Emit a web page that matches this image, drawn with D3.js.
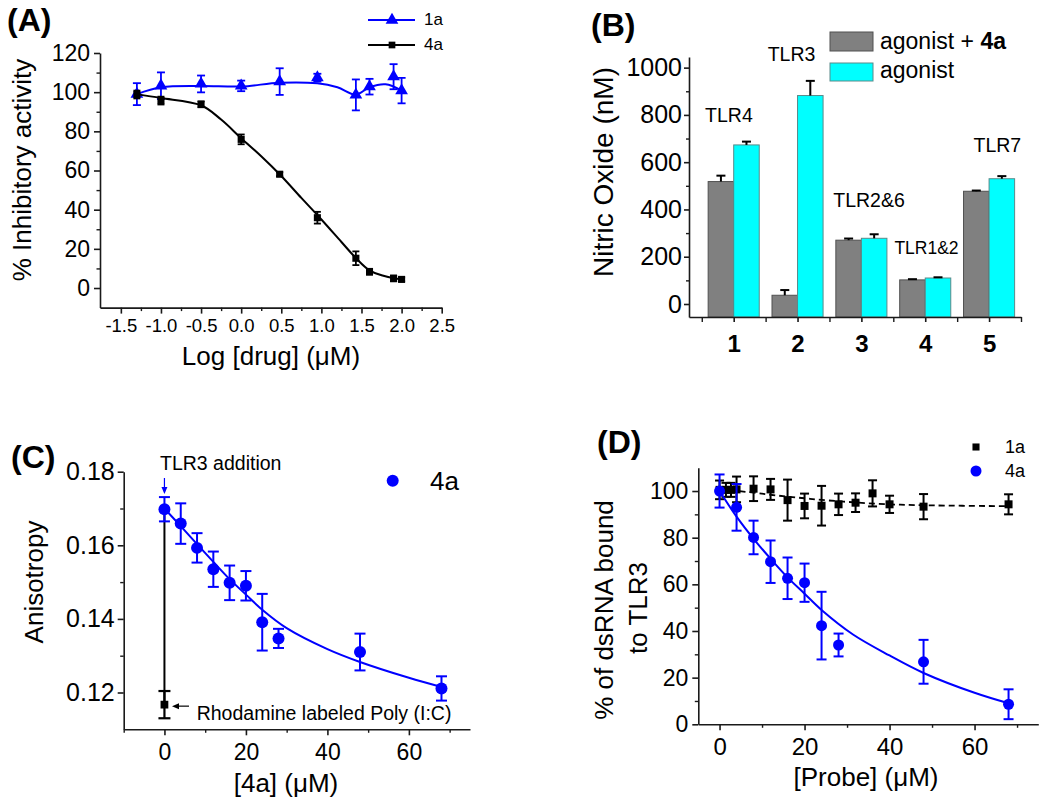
<!DOCTYPE html>
<html><head><meta charset="utf-8">
<script src="https://cdn.jsdelivr.net/npm/d3@7"></script>
<style>
body{margin:0;background:#fff;}
svg{display:block;}
</style></head><body>
<svg id="chart" width="1050" height="807"></svg>
<script>
// ---------------- Panel A data ----------------
const aLogConc = [-1.3, -1.0, -0.5, 0.0, 0.48, 0.95, 1.43, 1.6, 1.9, 2.0];
const a1aMean  = [99, 103.3, 104.2, 103.2, 105.4, 107.4, 98.6, 102.8, 107.9, 100.8];
const a1aErr   = [5.6, 6.8, 4.3, 2.7, 6.8, 2.0, 7.9, 4.0, 6.4, 6.5];
const a4aMean  = [98.8, 95.7, 93.8, 75.9, 58.1, 35.9, 15.2, 8.3, 4.9, 4.4];
const a4aErr   = [2.0, 2.0, 1.5, 2.5, 1.0, 3.0, 3.5, 1.5, 1.5, 1.0];
const a1aCurveX = [-1.3, -1.0, -0.5, 0.0, 0.48, 0.95, 1.2, 1.43, 1.6, 1.8, 2.0];
const a1aCurveY = [99, 102.5, 103.2, 102.9, 104.8, 104.5, 102.5, 98.8, 102.5, 104, 100.8];
const a4aCurveX = [-1.3, -1.0, -0.5, -0.25, 0.0, 0.25, 0.5, 0.75, 1.0, 1.25, 1.43, 1.6, 1.75, 1.9, 2.0];
const a4aCurveY = [99, 97, 93.3, 86, 76.5, 67.3, 57.2, 46, 35, 23.5, 15.3, 9, 6.5, 5, 4.5];
const aXTicks = [-1.5, -1.0, -0.5, 0.0, 0.5, 1.0, 1.5, 2.0, 2.5];
const aXMinor = [-1.25, -0.75, -0.25, 0.25, 0.75, 1.25, 1.75, 2.25];
const aYTicks = [0, 20, 40, 60, 80, 100, 120];
const aYMinor = [10, 30, 50, 70, 90, 110];
const aSeries = ["1a", "4a"];

// ---------------- Panel B data ----------------
const bCats = [1, 2, 3, 4, 5];
const bTlr = ["TLR4", "TLR3", "TLR2&6", "TLR1&2", "TLR7"];
const bWith4a = [518, 37, 270, 102, 477];
const bWith4aErr = [25, 22, 7, 3, 3];
const bAgonist = [673, 882, 278, 110, 530];
const bAgonistErr = [14, 62, 17, 3, 11];
const bYTicks = [0, 200, 400, 600, 800, 1000];
const bYMinor = [100, 300, 500, 700, 900];
const bXMinor = [0.5, 1.5, 2.5, 3.5, 4.5, 5.5];

// ---------------- Panel C data ----------------
const cConc = [0, 4, 8, 12, 16, 20, 24, 28, 48, 68];
const cAniso = [0.1698, 0.1659, 0.1593, 0.1535, 0.1498, 0.1490, 0.1391, 0.1347, 0.1310, 0.1211];
const cErr = [0.0033, 0.0055, 0.0040, 0.0048, 0.0047, 0.0040, 0.0077, 0.0026, 0.0050, 0.0033];
const cProbeConc = 0, cProbe = 0.1167, cProbeErr = 0.0037;
const cCurveX = [0, 4, 8, 12, 16, 20, 24, 30, 40, 48, 60, 68];
const cCurveY = [0.1700, 0.1652, 0.1603, 0.1555, 0.1508, 0.1466, 0.1425, 0.1375, 0.1318, 0.1283, 0.1240, 0.1215];
const cYTicks = [0.12, 0.14, 0.16, 0.18];
const cYMinor = [0.13, 0.15, 0.17];
const cXTicks = [0, 20, 40, 60];
const cXMinor = [-10, 10, 30, 50, 70];

// ---------------- Panel D data ----------------
const d1aConc = [0, 1.5, 2.7, 4, 8, 12, 16, 20, 24, 28, 32, 36, 40, 48, 68];
const d1aVal  = [100.5, 100.5, 100.5, 100.7, 101, 100.7, 96.1, 93.6, 93.7, 94.3, 95, 99, 94.3, 93.3, 94.3];
const d1aErr  = [4, 3, 3, 5.5, 5.3, 4.5, 8.8, 5.3, 8.5, 4.6, 4, 5.6, 3.7, 5.4, 4.3];
const d4aConc = [0, 4, 8, 12, 16, 20, 24, 28, 48, 68];
const d4aVal  = [100, 93, 80.1, 69.7, 62.6, 60.7, 42.3, 34, 26.8, 8.6];
const d4aErr  = [7.1, 10, 7.2, 9.1, 8.9, 8.2, 14.5, 4.9, 9.4, 6.4];
const d1aCurveX = [0, 8, 12, 16, 20, 24, 32, 40, 48, 68];
const d1aCurveY = [100.8, 99.3, 98.4, 97.6, 96.9, 96.2, 95.1, 94.3, 93.9, 93.5];
const d4aCurveX = [0, 4, 8, 12, 16, 20, 24, 31.4, 40, 48, 60, 68];
const d4aCurveY = [100, 89, 79.5, 71, 63, 56, 49, 38.5, 29.5, 22, 13.5, 9];
const dYTicks = [0, 20, 40, 60, 80, 100];
const dYMinor = [10, 30, 50, 70, 90];
const dXTicks = [0, 20, 40, 60];
const dXMinor = [10, 30, 50, 70];

// ---------------- helpers ----------------
const svg = d3.select('#chart');
const FONT = '"Liberation Sans", Arial, Helvetica, sans-serif';
const AXC = '#1a1a1a';
const BLUE = '#0000ff';

const pts = (xs, ys, es) => xs.map((x, i) => ({x, y: ys[i], e: es ? es[i] : 0}));

function txt(x, y, s, size, o = {}) {
  const t = svg.append('text').attr('x', x).attr('y', y)
    .attr('font-size', size).attr('font-family', FONT)
    .attr('fill', o.fill || '#000').attr('text-anchor', o.anchor || 'start');
  if (o.bold) t.attr('font-weight', 'bold');
  if (o.rotate) t.attr('transform', `rotate(-90,${x},${y})`);
  if (o.db) t.attr('dominant-baseline', o.db);
  t.text(s);
  return t;
}

function drawAxis(o) {
  const mk = o.orient === 'left' ? d3.axisLeft : d3.axisBottom;
  const tr = o.orient === 'left' ? `translate(${o.at},0)` : `translate(0,${o.at})`;
  const gMin = svg.append('g').attr('transform', tr)
    .call(mk(o.scale).tickValues(o.minor).tickSize(o.minorLen || 3.5).tickFormat('').tickSizeOuter(0));
  gMin.select('.domain').remove();
  gMin.selectAll('.tick line').attr('stroke', AXC).attr('stroke-width', 1.4);
  const g = svg.append('g').attr('transform', tr)
    .call(mk(o.scale).tickValues(o.major).tickSize(o.majorLen || 6).tickPadding(o.pad).tickFormat(o.fmt).tickSizeOuter(0));
  g.attr('font-size', o.size).attr('font-family', FONT);
  g.selectAll('.domain, .tick line').attr('stroke', AXC).attr('stroke-width', 1.6);
  g.selectAll('.tick text').attr('fill', '#000').attr('font-weight', o.bold ? 'bold' : 'normal');
  return g;
}

function errBars(data, xs, ys, color, cap, sw, upOnly) {
  const g = svg.append('g').attr('stroke', color).attr('stroke-width', sw).attr('fill', 'none');
  data.forEach(d => {
    const x = xs(d.x), y1 = ys(d.y + d.e), y0 = upOnly ? ys(d.y) : ys(d.y - d.e);
    g.append('line').attr('x1', x).attr('x2', x).attr('y1', y0).attr('y2', y1);
    g.append('line').attr('x1', x - cap / 2).attr('x2', x + cap / 2).attr('y1', y1).attr('y2', y1);
    if (!upOnly) g.append('line').attr('x1', x - cap / 2).attr('x2', x + cap / 2).attr('y1', y0).attr('y2', y0);
  });
}

function symbols(data, xs, ys, type, size, color) {
  svg.append('g').selectAll('path').data(data).join('path')
    .attr('transform', d => `translate(${xs(d.x)},${ys(d.y)})`)
    .attr('d', d3.symbol().type(type).size(size)).attr('fill', color);
}

function curve(data, xs, ys, color, sw, dash) {
  const p = svg.append('path').datum(data)
    .attr('d', d3.line().x(d => xs(d.x)).y(d => ys(d.y)).curve(d3.curveCatmullRom.alpha(0.5)))
    .attr('fill', 'none').attr('stroke', color).attr('stroke-width', sw);
  if (dash) p.attr('stroke-dasharray', dash);
}

// ================= Panel A =================
{
  const x = d3.scaleLinear().domain([-1.76, 2.5]).range([100, 441.7]);
  const y = d3.scaleLinear().domain([-10, 120]).range([307.6, 53]);
  drawAxis({orient: 'left', scale: y, at: 100, major: aYTicks, minor: aYMinor, fmt: d => d, size: 23, pad: 4});
  drawAxis({orient: 'bottom', scale: x, at: 307.6, major: aXTicks, minor: aXMinor, fmt: d => d.toFixed(1), size: 18.5, pad: 5});

  const s1 = pts(aLogConc, a1aMean, a1aErr), s4 = pts(aLogConc, a4aMean, a4aErr);
  curve(pts(a1aCurveX, a1aCurveY), x, y, BLUE, 2);
  errBars(s1, x, y, BLUE, 8, 1.8);
  symbols(s1, x, y, d3.symbolTriangle, 70, BLUE);
  curve(pts(a4aCurveX, a4aCurveY), x, y, '#000', 2);
  errBars(s4, x, y, '#000', 7, 1.8);
  symbols(s4, x, y, d3.symbolSquare, 50, '#000');

  txt(7, 31, '(A)', 32, {bold: true});
  txt(31, 170, '% Inhibitory activity', 26, {anchor: 'middle', rotate: true});
  txt(271, 365, 'Log [drug] (\u03bcM)', 26, {anchor: 'middle'});

  const leg = [{c: BLUE, t: d3.symbolTriangle, s: 70, y: 20}, {c: '#000', t: d3.symbolSquare, s: 45, y: 45}];
  leg.forEach((l, i) => {
    svg.append('line').attr('x1', 368).attr('x2', 415).attr('y1', l.y).attr('y2', l.y)
      .attr('stroke', l.c).attr('stroke-width', 2);
    svg.append('path').attr('transform', `translate(392,${l.y})`).attr('d', d3.symbol().type(l.t).size(l.s)).attr('fill', l.c);
    txt(424, l.y - 1, aSeries[i], 17, {db: 'central'});
  });
}

// ================= Panel B =================
{
  const x = d3.scaleLinear().domain([0.3, 5.5]).range([689, 1021]);
  const y = d3.scaleLinear().domain([-55, 1045]).range([317, 57]);
  const bw = 0.4;
  const g = svg.append('g');
  g.selectAll('rect.g').data(bCats).join('rect').attr('class', 'g')
    .attr('x', d => x(d - bw)).attr('width', d => x(d) - x(d - bw))
    .attr('y', (d, i) => y(bWith4a[i])).attr('height', (d, i) => y(-55) - y(bWith4a[i]))
    .attr('fill', '#808080').attr('stroke', '#505050').attr('stroke-width', 1);
  g.selectAll('rect.c').data(bCats).join('rect').attr('class', 'c')
    .attr('x', d => x(d)).attr('width', d => x(d + bw) - x(d))
    .attr('y', (d, i) => y(bAgonist[i])).attr('height', (d, i) => y(-55) - y(bAgonist[i]))
    .attr('fill', '#00ffff').attr('stroke', '#5a8a8a').attr('stroke-width', 1);
  errBars(bCats.map((c, i) => ({x: c - bw / 2, y: bWith4a[i], e: bWith4aErr[i]})), x, y, '#000', 9, 2, true);
  errBars(bCats.map((c, i) => ({x: c + bw / 2, y: bAgonist[i], e: bAgonistErr[i]})), x, y, '#000', 9, 2, true);

  drawAxis({orient: 'left', scale: y, at: 689, major: bYTicks, minor: bYMinor, fmt: d => d, size: 25, pad: 2, majorLen: 5, minorLen: 3});
  drawAxis({orient: 'bottom', scale: x, at: 317, major: bCats, minor: bXMinor, fmt: d => String(d), size: 24, pad: 13, bold: true, majorLen: 5, minorLen: 5});

  const tlrAnchor = [[0.925, 771], [1.906, 1028], [3.12, 412], [4.02, 212], [5.13, 645]];
  const tlrSize = [19.5, 19.5, 19.5, 17.5, 19.5];
  bTlr.forEach((t, i) => txt(x(tlrAnchor[i][0]), y(tlrAnchor[i][1]), t, tlrSize[i], {anchor: 'middle'}));

  txt(591, 36, '(B)', 32, {bold: true});
  txt(613, 172, 'Nitric Oxide (nM)', 28, {anchor: 'middle', rotate: true});

  svg.append('rect').attr('x', 830).attr('y', 32).attr('width', 43).attr('height', 19)
    .attr('fill', '#808080').attr('stroke', '#505050');
  svg.append('rect').attr('x', 830).attr('y', 63).attr('width', 43).attr('height', 18)
    .attr('fill', '#00ffff').attr('stroke', '#5a8a8a');
  const l1 = txt(880, 49, 'agonist + ', 23);
  l1.append('tspan').attr('font-weight', 'bold').text('4a');
  txt(880, 78, 'agonist', 23);
}

// ================= Panel C =================
{
  const x = d3.scaleLinear().domain([-10, 75]).range([123.7, 470]);
  const y = d3.scaleLinear().domain([0.11, 0.18]).range([729.3, 471.7]);
  drawAxis({orient: 'left', scale: y, at: 123.7, major: cYTicks, minor: cYMinor, fmt: d => d.toFixed(2), size: 25, pad: 3});
  drawAxis({orient: 'bottom', scale: x, at: 729.3, major: cXTicks, minor: cXMinor, fmt: d => d, size: 23, pad: 8});

  svg.append('line').attr('x1', x(cProbeConc)).attr('x2', x(cProbeConc))
    .attr('y1', y(cProbe)).attr('y2', y(cAniso[0])).attr('stroke', '#000').attr('stroke-width', 2);
  errBars([{x: cProbeConc, y: cProbe, e: cProbeErr}], x, y, '#000', 12, 2.2);
  symbols([{x: cProbeConc, y: cProbe}], x, y, d3.symbolSquare, 60, '#000');

  const s = pts(cConc, cAniso, cErr);
  curve(pts(cCurveX, cCurveY), x, y, BLUE, 2);
  errBars(s, x, y, BLUE, 11, 2);
  s.forEach(d => svg.append('circle').attr('cx', x(d.x)).attr('cy', y(d.y)).attr('r', 6).attr('fill', BLUE));

  const ax0 = x(cConc[0]);
  txt(160, 470, 'TLR3 addition', 19.5);
  svg.append('line').attr('x1', ax0).attr('x2', ax0).attr('y1', 478).attr('y2', 488).attr('stroke', BLUE).attr('stroke-width', 1.2);
  svg.append('path').attr('d', `M${ax0 - 3},487 L${ax0 + 3},487 L${ax0},494 Z`).attr('fill', BLUE);
  const py = y(cProbe);
  svg.append('line').attr('x1', 176).attr('x2', 189).attr('y1', py + 1.5).attr('y2', py + 1.5).attr('stroke', '#000').attr('stroke-width', 1.2);
  svg.append('path').attr('d', `M172,${py + 1.5} L179,${py - 1.5} L179,${py + 4.5} Z`).attr('fill', '#000');
  txt(196.7, 720, 'Rhodamine labeled Poly (I:C)', 19.5);

  txt(11, 468, '(C)', 32, {bold: true});
  txt(43, 582, 'Anisotropy', 26, {anchor: 'middle', rotate: true});
  txt(286, 792, '[4a] (\u03bcM)', 26, {anchor: 'middle'});

  svg.append('circle').attr('cx', 392.7).attr('cy', 480.7).attr('r', 6).attr('fill', BLUE);
  txt(430, 481, '4a', 26, {db: 'central'});
}

// ================= Panel D =================
{
  const x = d3.scaleLinear().domain([-5, 75]).range([698.3, 1038.3]);
  const y = d3.scaleLinear().domain([0, 110]).range([724.3, 467.7]);
  drawAxis({orient: 'left', scale: y, at: 698.3, major: dYTicks, minor: dYMinor, fmt: d => d, size: 23, pad: 4});
  drawAxis({orient: 'bottom', scale: x, at: 724.3, major: dXTicks, minor: dXMinor, fmt: d => d, size: 24, pad: 7.5});

  const s1 = pts(d1aConc, d1aVal, d1aErr), s4 = pts(d4aConc, d4aVal, d4aErr);
  curve(pts(d1aCurveX, d1aCurveY), x, y, '#000', 1.8, '6,4');
  errBars(s1, x, y, '#000', 9, 2);
  symbols(s1, x, y, d3.symbolSquare, 64, '#000');
  curve(pts(d4aCurveX, d4aCurveY), x, y, BLUE, 2);
  errBars(s4, x, y, BLUE, 10, 2);
  s4.forEach(d => svg.append('circle').attr('cx', x(d.x)).attr('cy', y(d.y)).attr('r', 5.5).attr('fill', BLUE));

  txt(597, 453, '(D)', 32, {bold: true});
  txt(613, 610, '% of dsRNA bound', 26, {anchor: 'middle', rotate: true});
  txt(647, 608, 'to TLR3', 26, {anchor: 'middle', rotate: true});
  txt(866, 786, '[Probe] (\u03bcM)', 26, {anchor: 'middle'});

  svg.append('path').attr('transform', 'translate(976,447)').attr('d', d3.symbol().type(d3.symbolSquare).size(50)).attr('fill', '#000');
  txt(1005, 447, aSeries[0], 18, {db: 'central'});
  svg.append('circle').attr('cx', 976).attr('cy', 471).attr('r', 5.5).attr('fill', BLUE);
  txt(1005, 471, aSeries[1], 18, {db: 'central'});
}
</script>
</body></html>
